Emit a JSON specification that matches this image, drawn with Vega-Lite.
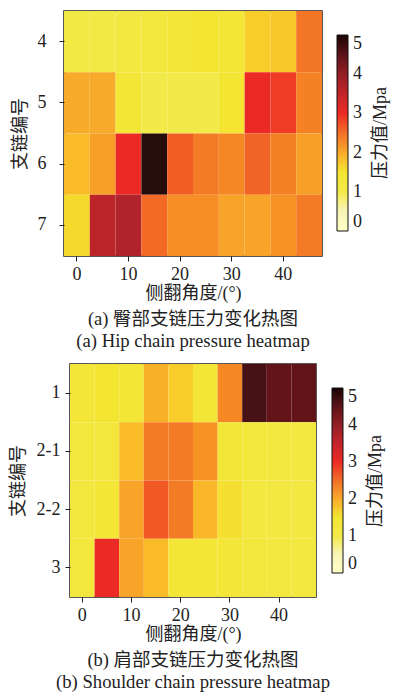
{
  "$schema": "https://vega.github.io/schema/vega-lite/v6.json",
  "padding": {"left": 8, "top": 10, "right": 0, "bottom": 0},
  "background": "white",
  "bounds": "flush",
  "center": true,
  "spacing": 108,
  "config": {
    "font": "Liberation Serif, Noto Serif CJK SC, Noto Sans CJK SC",
    "view": {"stroke": "#222222", "strokeWidth": 1.5},
    "axis": {
      "domain": false,
      "ticks": true,
      "tickColor": "#222222",
      "tickSize": 5,
      "tickWidth": 1,
      "labelFont": "Liberation Serif",
      "labelFontSize": 18,
      "labelColor": "#222222",
      "titleFont": "Liberation Serif, Noto Sans CJK SC",
      "titleFontSize": 18,
      "titleFontWeight": "normal",
      "titleColor": "#222222",
      "grid": false
    },
    "legend": {
      "labelFont": "Liberation Serif",
      "labelFontSize": 18,
      "labelColor": "#222222",
      "titleFont": "Liberation Serif, Noto Sans CJK SC",
      "titleFontSize": 18,
      "titleFontWeight": "normal",
      "titleColor": "#222222"
    },
    "title": {
      "font": "Liberation Serif, Noto Sans CJK SC",
      "fontSize": 18.5,
      "fontWeight": "normal",
      "color": "#222222",
      "subtitleFont": "Liberation Serif",
      "subtitleFontSize": 18.7,
      "subtitleColor": "#222222"
    }
  },
  "resolve": {"scale": {"color": "independent"}},
  "vconcat": [
    {
      "width": 258,
      "height": 245,
      "title": {"text": "(a) 臀部支链压力变化热图", "subtitle": "(a) Hip chain pressure heatmap", "orient": "bottom", "offset": 8, "subtitlePadding": 3, "fontSize": 18.5, "subtitleFontSize": 18.7},
      "data": {"values": [
        {"chain": "4", "angle": 0, "pressure": 1.15}, {"chain": "4", "angle": 5, "pressure": 1.15}, {"chain": "4", "angle": 10, "pressure": 1.2}, {"chain": "4", "angle": 15, "pressure": 1.3}, {"chain": "4", "angle": 20, "pressure": 1.4}, {"chain": "4", "angle": 25, "pressure": 1.5}, {"chain": "4", "angle": 30, "pressure": 1.45}, {"chain": "4", "angle": 35, "pressure": 1.7}, {"chain": "4", "angle": 40, "pressure": 1.75}, {"chain": "4", "angle": 45, "pressure": 2.45},
        {"chain": "5", "angle": 0, "pressure": 2.0}, {"chain": "5", "angle": 5, "pressure": 2.0}, {"chain": "5", "angle": 10, "pressure": 1.45}, {"chain": "5", "angle": 15, "pressure": 1.05}, {"chain": "5", "angle": 20, "pressure": 1.05}, {"chain": "5", "angle": 25, "pressure": 1.05}, {"chain": "5", "angle": 30, "pressure": 1.5}, {"chain": "5", "angle": 35, "pressure": 3.0}, {"chain": "5", "angle": 40, "pressure": 2.9}, {"chain": "5", "angle": 45, "pressure": 2.35},
        {"chain": "6", "angle": 0, "pressure": 1.85}, {"chain": "6", "angle": 5, "pressure": 2.1}, {"chain": "6", "angle": 10, "pressure": 3.0}, {"chain": "6", "angle": 15, "pressure": 4.9}, {"chain": "6", "angle": 20, "pressure": 2.65}, {"chain": "6", "angle": 25, "pressure": 2.4}, {"chain": "6", "angle": 30, "pressure": 2.3}, {"chain": "6", "angle": 35, "pressure": 2.6}, {"chain": "6", "angle": 40, "pressure": 2.35}, {"chain": "6", "angle": 45, "pressure": 2.1},
        {"chain": "7", "angle": 0, "pressure": 1.6}, {"chain": "7", "angle": 5, "pressure": 3.55}, {"chain": "7", "angle": 10, "pressure": 3.7}, {"chain": "7", "angle": 15, "pressure": 2.55}, {"chain": "7", "angle": 20, "pressure": 2.25}, {"chain": "7", "angle": 25, "pressure": 2.25}, {"chain": "7", "angle": 30, "pressure": 2.05}, {"chain": "7", "angle": 35, "pressure": 2.05}, {"chain": "7", "angle": 40, "pressure": 2.2}, {"chain": "7", "angle": 45, "pressure": 2.4}
      ]},
      "mark": {"type": "rect"},
      "encoding": {
        "x": {"field": "angle", "type": "ordinal", "scale": {"paddingInner": 0, "paddingOuter": 0},
              "axis": {"values": [0, 10, 20, 30, 40], "labelAngle": 0, "labelPadding": 4, "title": "侧翻角度/(°)", "titlePadding": 1}},
        "y": {"field": "chain", "type": "ordinal", "scale": {"paddingInner": 0, "paddingOuter": 0},
              "axis": {"labelPadding": 13, "title": "支链编号", "titlePadding": 8}},
        "color": {"field": "pressure", "type": "quantitative",
                  "scale": {"domain": [0, 0.5, 1, 1.5, 2, 2.5, 3, 3.8, 4.4, 5],
                            "range": ["#ffffff", "#f8f4b8", "#f2ea4a", "#f4e533", "#f8aa2a", "#f26f27", "#ec2a25", "#a8222a", "#6a151a", "#1a0404"]},
                  "legend": {"orient": "none", "legendX": 273, "legendY": 24, "direction": "vertical", "gradientLength": 196, "gradientThickness": 11,
                             "gradientStrokeColor": "#111111", "gradientStrokeWidth": 1, "values": [0, 1, 2, 3, 4, 5], "labelOverlap": false, "labelOffset": 5,
                             "title": "压力值/Mpa", "titleOrient": "right", "titlePadding": 10,
                             "encode": {"title": {"update": {"angle": {"value": -90}, "baseline": {"value": "top"}}}}}}
      }
    },
    {
      "width": 246,
      "height": 233,
      "title": {"text": "(b) 肩部支链压力变化热图", "subtitle": "(b) Shoulder chain pressure heatmap", "orient": "bottom", "offset": 8, "subtitlePadding": 3, "fontSize": 18.5, "subtitleFontSize": 18.7},
      "data": {"values": [
        {"chain": "1", "angle": 0, "pressure": 1.4}, {"chain": "1", "angle": 5, "pressure": 1.5}, {"chain": "1", "angle": 10, "pressure": 1.45}, {"chain": "1", "angle": 15, "pressure": 1.95}, {"chain": "1", "angle": 20, "pressure": 1.7}, {"chain": "1", "angle": 25, "pressure": 1.45}, {"chain": "1", "angle": 30, "pressure": 2.3}, {"chain": "1", "angle": 35, "pressure": 4.65}, {"chain": "1", "angle": 40, "pressure": 4.45}, {"chain": "1", "angle": 45, "pressure": 4.45},
        {"chain": "2-1", "angle": 0, "pressure": 1.35}, {"chain": "2-1", "angle": 5, "pressure": 1.35}, {"chain": "2-1", "angle": 10, "pressure": 1.85}, {"chain": "2-1", "angle": 15, "pressure": 2.4}, {"chain": "2-1", "angle": 20, "pressure": 2.4}, {"chain": "2-1", "angle": 25, "pressure": 2.2}, {"chain": "2-1", "angle": 30, "pressure": 1.4}, {"chain": "2-1", "angle": 35, "pressure": 1.35}, {"chain": "2-1", "angle": 40, "pressure": 1.25}, {"chain": "2-1", "angle": 45, "pressure": 1.25},
        {"chain": "2-2", "angle": 0, "pressure": 1.3}, {"chain": "2-2", "angle": 5, "pressure": 1.45}, {"chain": "2-2", "angle": 10, "pressure": 2.05}, {"chain": "2-2", "angle": 15, "pressure": 2.7}, {"chain": "2-2", "angle": 20, "pressure": 2.4}, {"chain": "2-2", "angle": 25, "pressure": 1.9}, {"chain": "2-2", "angle": 30, "pressure": 1.55}, {"chain": "2-2", "angle": 35, "pressure": 1.25}, {"chain": "2-2", "angle": 40, "pressure": 1.2}, {"chain": "2-2", "angle": 45, "pressure": 1.2},
        {"chain": "3", "angle": 0, "pressure": 1.35}, {"chain": "3", "angle": 5, "pressure": 3.0}, {"chain": "3", "angle": 10, "pressure": 2.05}, {"chain": "3", "angle": 15, "pressure": 1.85}, {"chain": "3", "angle": 20, "pressure": 1.45}, {"chain": "3", "angle": 25, "pressure": 1.45}, {"chain": "3", "angle": 30, "pressure": 1.4}, {"chain": "3", "angle": 35, "pressure": 1.3}, {"chain": "3", "angle": 40, "pressure": 1.25}, {"chain": "3", "angle": 45, "pressure": 1.25}
      ]},
      "mark": {"type": "rect"},
      "encoding": {
        "x": {"field": "angle", "type": "ordinal", "scale": {"paddingInner": 0, "paddingOuter": 0},
              "axis": {"values": [0, 10, 20, 30, 40], "labelAngle": 0, "labelPadding": 4, "title": "侧翻角度/(°)", "titlePadding": 1}},
        "y": {"field": "chain", "type": "ordinal", "scale": {"paddingInner": 0, "paddingOuter": 0},
              "axis": {"labelPadding": 5, "title": "支链编号", "titlePadding": 9}},
        "color": {"field": "pressure", "type": "quantitative",
                  "scale": {"domain": [0, 0.5, 1, 1.5, 2, 2.5, 3, 3.8, 4.4, 5],
                            "range": ["#ffffff", "#f8f4b8", "#f2ea4a", "#f4e533", "#f8aa2a", "#f26f27", "#ec2a25", "#a8222a", "#6a151a", "#1a0404"]},
                  "legend": {"orient": "none", "legendX": 262, "legendY": 24, "direction": "vertical", "gradientLength": 185, "gradientThickness": 11,
                             "gradientStrokeColor": "#111111", "gradientStrokeWidth": 1, "values": [0, 1, 2, 3, 4, 5], "labelOverlap": false, "labelOffset": 5,
                             "title": "压力值/Mpa", "titleOrient": "right", "titlePadding": 10,
                             "encode": {"title": {"update": {"angle": {"value": -90}, "baseline": {"value": "top"}}}}}}
      }
    }
  ]
}
